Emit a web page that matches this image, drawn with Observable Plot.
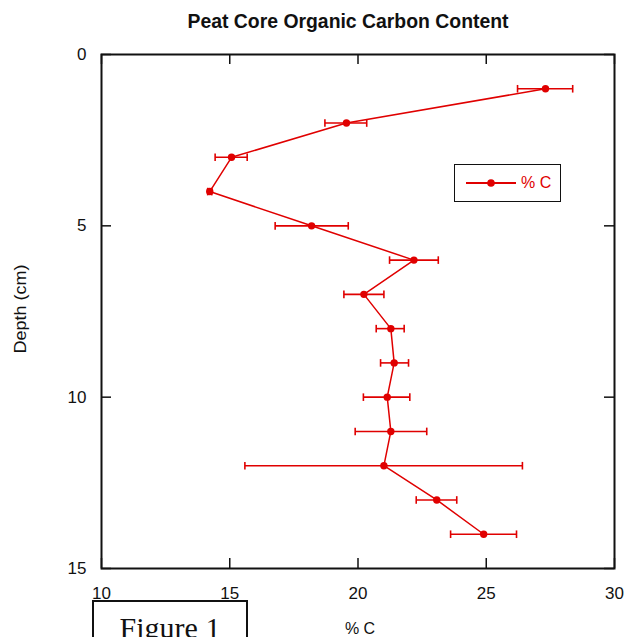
<!DOCTYPE html>
<html>
<head>
<meta charset="utf-8">
<script src="https://cdn.jsdelivr.net/npm/d3@7"></script>
<script src="https://cdn.jsdelivr.net/npm/@observablehq/plot@0.6"></script>
<style>
  body { margin: 0; background: #fff; }
  #chart { position: relative; width: 626px; height: 637px; overflow: hidden;
           font-family: "Liberation Sans", Arial, sans-serif; background: #fff; }
  #legend { position: absolute; left: 454px; top: 164px; width: 105px; height: 36px;
            border: 1.6px solid #111; background: #fff; }
  #legend svg { position: absolute; left: 0; top: 0; }
  #legend span { position: absolute; left: 66px; top: 8px; font-size: 16px; line-height: 20px; color: #e00000; }
  #figbox { position: absolute; left: 92px; top: 600px; width: 152px; height: 60px; border: 2px solid #111; }
  #figlabel { position: absolute; left: 92px; width: 156px; top: 613px; text-align: center;
              font-family: "Liberation Serif", "Times New Roman", serif; font-size: 30px; line-height: 30px; color: #111; }
</style>
</head>
<body>
<div id="chart"></div>
<script>
// Organic carbon (%) measured down a peat core, with the spread at each depth
const depth      = [1, 2, 3, 4, 5, 6, 7, 8, 9, 10, 11, 12, 13, 14];
const carbon     = [27.31, 19.55, 15.07, 14.22, 18.19, 22.18, 20.23, 21.28, 21.41, 21.14, 21.28, 21.01, 23.07, 24.90];
const carbonLow  = [26.22, 18.71, 14.43, 14.14, 16.77, 21.23, 19.45, 20.71, 20.88, 20.21, 19.89, 15.59, 22.27, 23.61];
const carbonHigh = [28.37, 20.34, 15.68, 14.30, 19.62, 23.13, 21.01, 21.80, 21.97, 22.02, 22.68, 26.41, 23.85, 26.18];

const xTicks = [10, 15, 20, 25, 30];
const yTicks = [0, 5, 10, 15];

const titleText = "Peat Core Organic Carbon Content";
const xLabel = "% C";
const yLabel = "Depth (cm)";
const seriesName = "% C";
const figureText = "Figure 1";

const red = "#e00000";
const rows = depth.map((d, i) => ({depth: d, c: carbon[i], lo: carbonLow[i], hi: carbonHigh[i]}));

// vertical bar used as the error-bar end cap
const capSymbol = {
  draw(context, size) {
    const r = Math.sqrt(size / Math.PI);
    context.moveTo(0, -r);
    context.lineTo(0, r);
  }
};

const W = 626, H = 637, mL = 101, mR = 12, mT = 54, mB = 69;
const innerW = W - mL - mR, innerH = H - mT - mB, tickLen = 10;

const plot = Plot.plot({
  width: W, height: H,
  marginLeft: mL, marginRight: mR, marginTop: mT, marginBottom: mB,
  style: {fontFamily: '"Liberation Sans", Arial, sans-serif', color: "#111", background: "transparent", overflow: "visible"},
  x: {domain: [10, 30]},
  y: {domain: [0, 15], reverse: true},
  marks: [
    Plot.axisX(xTicks, {anchor: "bottom", tickSize: 0, tickPadding: 18, fontSize: 17, label: null}),
    Plot.axisY(yTicks, {anchor: "left", tickSize: 0, tickPadding: 15, fontSize: 17, label: null}),
    // inward ticks on all four sides
    Plot.tickX(xTicks, {x: d => d, insetTop: innerH - tickLen, stroke: "#111", strokeWidth: 1.5}),
    Plot.tickX(xTicks, {x: d => d, insetBottom: innerH - tickLen, stroke: "#111", strokeWidth: 1.5}),
    Plot.tickY(yTicks, {y: d => d, insetRight: innerW - tickLen, stroke: "#111", strokeWidth: 1.5}),
    Plot.tickY(yTicks, {y: d => d, insetLeft: innerW - tickLen, stroke: "#111", strokeWidth: 1.5}),
    Plot.frame({stroke: "#111", strokeWidth: 2}),
    // error bars
    Plot.link(rows, {x1: "lo", x2: "hi", y1: "depth", y2: "depth", stroke: red, strokeWidth: 1.6}),
    Plot.dot(rows, {x: "lo", y: "depth", symbol: capSymbol, r: 3.8, stroke: red, strokeWidth: 1.6, fill: "none"}),
    Plot.dot(rows, {x: "hi", y: "depth", symbol: capSymbol, r: 3.8, stroke: red, strokeWidth: 1.6, fill: "none"}),
    // profile line and points
    Plot.line(rows, {x: "c", y: "depth", stroke: red, strokeWidth: 1.5}),
    Plot.dot(rows, {x: "c", y: "depth", r: 3.7, fill: red, stroke: "none"}),
    // titles
    Plot.text([titleText], {text: d => d, frameAnchor: "top", lineAnchor: "middle", dy: -33, dx: -10, fontSize: 19.4, fontWeight: "bold", fill: "#111"}),
    Plot.text([xLabel], {text: d => d, frameAnchor: "bottom", lineAnchor: "middle", dy: 60, dx: 2, fontSize: 16, fill: "#111"}),
    Plot.text([yLabel], {text: d => d, frameAnchor: "left", lineAnchor: "middle", textAnchor: "start", rotate: -90, dx: -81, dy: 42, fontSize: 16, fill: "#111"})
  ]
});

const chart = document.getElementById("chart");
chart.appendChild(plot);

// the vertical axis title is set slightly stretched along its length
d3.select(plot).selectAll("text").filter(function() { return this.textContent === yLabel; })
  .attr("textLength", 89).attr("lengthAdjust", "spacingAndGlyphs");

// legend
const legend = document.createElement("div");
legend.id = "legend";
legend.innerHTML = `<svg width="64" height="36"><line x1="11" x2="61" y1="18" y2="18" stroke="${red}" stroke-width="1.8"/><circle cx="36" cy="18" r="3.8" fill="${red}"/></svg><span></span>`;
legend.querySelector("span").textContent = seriesName;
chart.appendChild(legend);

// figure caption box
const figbox = document.createElement("div");
figbox.id = "figbox";
chart.appendChild(figbox);
const figlabel = document.createElement("div");
figlabel.id = "figlabel";
figlabel.textContent = figureText;
chart.appendChild(figlabel);
</script>
</body>
</html>
